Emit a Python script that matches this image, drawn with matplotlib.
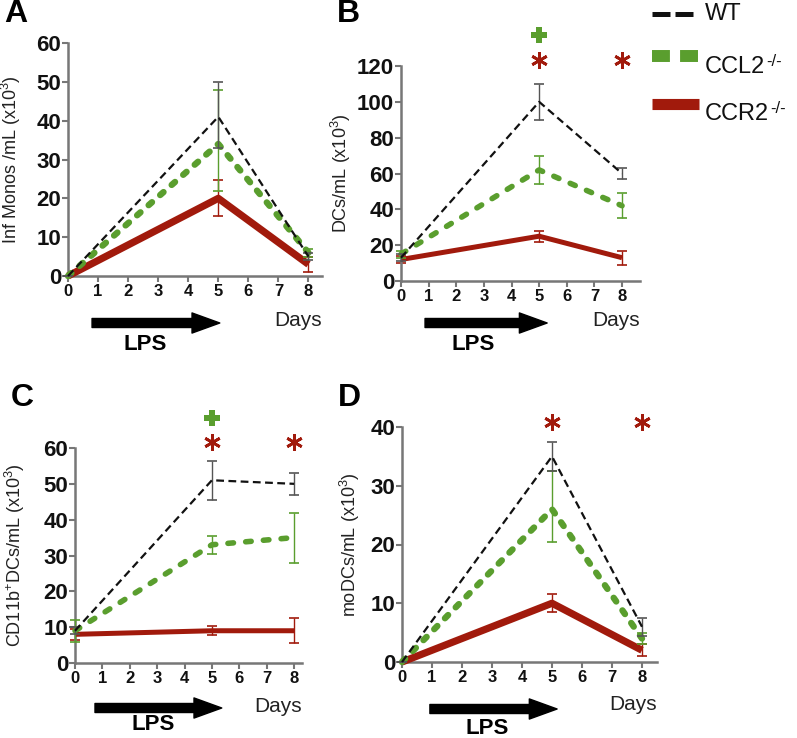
import matplotlib
matplotlib.use("Agg")
import matplotlib.pyplot as plt
from matplotlib.lines import Line2D

plt.rcParams['font.family'] = ['Liberation Sans', 'DejaVu Sans']
plt.rcParams['mathtext.fontset'] = 'custom'
plt.rcParams['mathtext.rm'] = 'Liberation Sans'

days = [0, 5, 8]
x_ticks = [0, 1, 2, 3, 4, 5, 6, 7, 8]

# Panel A: Inf Monos
a_wt = [0, 41, 5];      a_wt_lo = [0, 8, 1];    a_wt_hi = [0, 9, 1]
a_ccl2 = [0, 34, 6];    a_ccl2_lo = [0, 12, 1]; a_ccl2_hi = [0, 14, 1]
a_ccr2 = [0, 20, 3];    a_ccr2_lo = [0, 4.5, 2]; a_ccr2_hi = [0, 4.7, 2]
# Panel B: DCs
b_wt = [13, 100, 60];   b_wt_lo = [2, 10, 3];   b_wt_hi = [2, 10, 3]
b_ccl2 = [15, 62, 42];  b_ccl2_lo = [2, 8, 7];  b_ccl2_hi = [2, 8, 7]
b_ccr2 = [12, 25, 13];  b_ccr2_lo = [2, 3, 4];  b_ccr2_hi = [2, 3, 4]
# Panel C: CD11b+ DCs
c_wt = [9, 51, 50];     c_wt_lo = [1, 5.5, 3];  c_wt_hi = [1, 5.5, 3]
c_ccl2 = [9, 33, 35];   c_ccl2_lo = [3, 2.5, 7]; c_ccl2_hi = [3, 2.5, 7]
c_ccr2 = [8, 9, 9];     c_ccr2_lo = [1.5, 1.3, 3.5]; c_ccr2_hi = [1.5, 1.3, 3.5]
# Panel D: moDCs
d_wt = [0, 35, 6];      d_wt_lo = [0, 2.5, 1.5]; d_wt_hi = [0, 2.5, 1.5]
d_ccl2 = [0, 26, 4];    d_ccl2_lo = [0, 5.5, 1]; d_ccl2_hi = [0, 6.5, 1]
d_ccr2 = [0, 10, 2];    d_ccr2_lo = [0, 1.5, 1]; d_ccr2_hi = [0, 1.5, 1]

legend_labels = ['WT', 'CCL2', 'CCR2']
legend_sup = ['', '-/-', '-/-']

C_WT = '#111111'
C_WT_ERR = '#555555'
C_CCL2 = '#5a9e2e'
C_CCR2 = '#a11a0c'

fig = plt.figure(figsize=(7.97, 7.38), dpi=100)
W, H = 797, 738

def axes_px(left, right, top, bottom):
    return fig.add_axes([left / W, 1 - bottom / H, (right - left) / W, (bottom - top) / H])

panels = [
    dict(box=(68, 322, 43, 276), xmax=8.45, ymax=60, yticks=[0, 10, 20, 30, 40, 50, 60],
         ylabel='Inf Monos /mL (x10$^{3}$)', letter='A', letter_y=14, label_x=23,
         data=[(a_wt, a_wt_lo, a_wt_hi), (a_ccl2, a_ccl2_lo, a_ccl2_hi), (a_ccr2, a_ccr2_lo, a_ccr2_hi)],
         stars=[], plus=[], widths=(1.6, 4.6, 5.2), gdash=(0.7, 1.7),
         arrow=(0.80, 5.05), arrow_off=47, lps=(2.56, 69), days_off=44),
    dict(box=(401, 640, 66, 281), xmax=8.65, ymax=120, yticks=[0, 20, 40, 60, 80, 100, 120],
         ylabel='DCs/mL (x10$^{3}$)', letter='B', letter_y=14, label_x=353,
         data=[(b_wt, b_wt_lo, b_wt_hi), (b_ccl2, b_ccl2_lo, b_ccl2_hi), (b_ccr2, b_ccr2_lo, b_ccr2_hi)],
         stars=[(5, 123.3), (8, 123.3)], plus=[(5, 137.3)], widths=(1.6, 4.0, 3.6), gdash=(1.0, 2.2),
         arrow=(0.87, 5.29), arrow_off=42, lps=(2.6, 64), days_off=39),
    dict(box=(75, 302, 448, 663), xmax=8.29, ymax=60, yticks=[0, 10, 20, 30, 40, 50, 60],
         ylabel='CD11b$^{+}$DCs/mL (x10$^{3}$)', letter='C', letter_y=398, label_x=27,
         data=[(c_wt, c_wt_lo, c_wt_hi), (c_ccl2, c_ccl2_lo, c_ccl2_hi), (c_ccr2, c_ccr2_lo, c_ccr2_hi)],
         stars=[(5, 61.7), (8, 61.7)], plus=[(5, 68.4)], widths=(1.6, 4.0, 3.6), gdash=(1.0, 2.2),
         arrow=(0.73, 5.36), arrow_off=45, lps=(2.85, 62), days_off=43),
    dict(box=(402, 657, 427, 662), xmax=8.5, ymax=40, yticks=[0, 10, 20, 30, 40],
         ylabel='moDCs/mL (x10$^{3}$)', letter='D', letter_y=398, label_x=362,
         data=[(d_wt, d_wt_lo, d_wt_hi), (d_ccl2, d_ccl2_lo, d_ccl2_hi), (d_ccr2, d_ccr2_lo, d_ccr2_hi)],
         stars=[(5, 40.9), (8, 40.9)], plus=[], widths=(1.6, 4.6, 5.2), gdash=(0.7, 1.7),
         arrow=(0.93, 5.17), arrow_off=47, lps=(2.85, 66), days_off=43),
]

colors = [(C_WT, C_WT_ERR), (C_CCL2, C_CCL2), (C_CCR2, C_CCR2)]
zs = [5, 4, 3]

for p in panels:
    l, r, t, b = p['box']
    ax = axes_px(l, r, t, b)
    ax.set_xlim(0, p['xmax'])
    ax.set_ylim(0, p['ymax'])
    for s in ['top', 'right']:
        ax.spines[s].set_visible(False)
    for s in ['left', 'bottom']:
        ax.spines[s].set_color('#777777')
        ax.spines[s].set_linewidth(1.8)
    ax.set_xticks(x_ticks)
    ax.set_yticks(p['yticks'])
    ax.tick_params(axis='both', colors='#777777', width=1.5, length=4)
    ax.tick_params(axis='x', labelcolor='#111111', pad=2)
    ax.tick_params(axis='y', labelcolor='#111111', pad=1)
    for lab in ax.get_xticklabels():
        lab.set_fontweight('bold'); lab.set_fontsize(12)
    for lab in ax.get_yticklabels():
        lab.set_fontweight('bold'); lab.set_fontsize(16)
    ax.set_ylabel(p['ylabel'], fontsize=13, color='#222222')
    ax.yaxis.set_label_coords((p['label_x'] - l) / (r - l), 0.5)

    for i, ((vals, lo, hi), (col, ecol)) in enumerate(zip(p['data'], colors)):
        lw = p['widths'][i]
        ax.errorbar(days, vals, yerr=[lo, hi], fmt='none', ecolor=ecol,
                    elinewidth=1.0, capsize=3.5, capthick=1.2, zorder=zs[i] - 0.5, clip_on=False)
        line, = ax.plot(days, vals, color=col, lw=lw, zorder=zs[i],
                        solid_capstyle='butt', clip_on=False)
        if i == 0:
            line.set_dashes((3.5, 2))
        elif i == 1:
            line.set_dashes(p['gdash'])
            line.set_dash_capstyle('round')

    for (xs, ys) in p['stars']:
        ax.plot([xs], [ys], marker=(6, 2, 0), ms=12, mew=2.0, color=C_CCR2, clip_on=False,
                linestyle='none')
    for (xs, ys) in p['plus']:
        ax.plot([xs], [ys], marker='P', ms=12, mew=0, color=C_CCL2, clip_on=False,
                linestyle='none')

    ax_h = b - t
    xform = ax.get_xaxis_transform()
    y_arrow = -p['arrow_off'] / ax_h
    ax.annotate('', xy=(p['arrow'][1], y_arrow), xytext=(p['arrow'][0], y_arrow),
                xycoords=xform, textcoords=xform,
                arrowprops=dict(arrowstyle='simple,head_length=2.0,head_width=1.45,tail_width=0.65',
                                color='black', mutation_scale=10, shrinkA=0, shrinkB=0))
    ax.text(p['lps'][0], -p['lps'][1] / ax_h, 'LPS', transform=xform, ha='center', va='center',
            fontsize=16, fontweight='bold')
    ax.text(p['xmax'], -p['days_off'] / ax_h, 'Days', transform=xform, ha='right', va='center',
            fontsize=15, color='#222222')
    fig.text((l - 68 + 4) / W, 1 - p['letter_y'] / H, p['letter'],
             fontsize=23, fontweight='bold', ha='left', va='center')

# legend (figure coordinates)
leg_style = [(C_WT, 3.6, (3.6, 1.0), 14, 14, 695),
             (C_CCL2, 8.6, (1.5, 0.85), 56, 67, 700),
             (C_CCR2, 8.0, None, 104, 114, 699)]
fig.canvas.draw()
renderer = fig.canvas.get_renderer()
for label, sup, (col, lw, dsh, yl, yt, xe) in zip(legend_labels, legend_sup, leg_style):
    ln = Line2D([652 / W, xe / W], [1 - yl / H, 1 - yl / H], transform=fig.transFigure,
                color=col, lw=lw, solid_capstyle='butt')
    if dsh:
        ln.set_dashes(dsh)
        ln.set_dash_capstyle('butt')
    fig.add_artist(ln)
    t = fig.text(705 / W, 1 - yt / H, label, fontsize=17, ha='left', va='center', color='#111111')
    if sup:
        bb = t.get_window_extent(renderer)
        fig.text((bb.x1 + 1) / W, (bb.y1 + 2) / H, sup, fontsize=12, ha='left', va='top',
                 color='#111111')

fig.savefig('out.png', dpi=100)
